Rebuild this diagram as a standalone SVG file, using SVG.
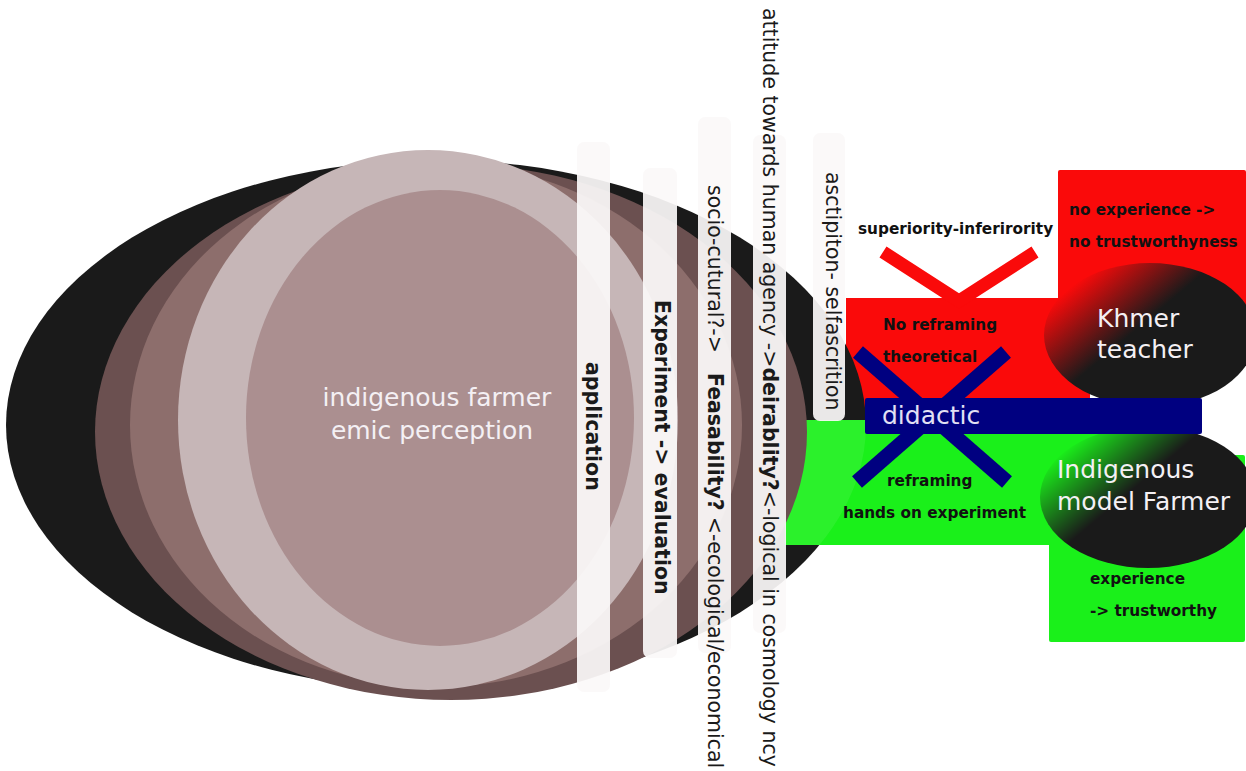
<svg xmlns="http://www.w3.org/2000/svg" width="1246" height="771" viewBox="0 0 1246 771">
  <defs>
    <style>
      .strip { fill: #fbf9f9; fill-opacity: 0.93; }
      .vt { font-family: "DejaVu Sans", "Liberation Sans", sans-serif; font-size: 20.5px; fill: #1a1a1a; }
      .vb { font-weight: bold; }
      .lbl { font-family: "DejaVu Sans", "Liberation Sans", sans-serif; font-size: 15.3px; font-weight: bold; fill: #111; }
      .big { font-family: "DejaVu Sans", "Liberation Sans", sans-serif; font-size: 25px; fill: #f4f0f4; }
    </style>
    <linearGradient id="gRed" gradientUnits="userSpaceOnUse" x1="1070" y1="288" x2="1118" y2="345">
      <stop offset="0" stop-color="#fa0a0a"/>
      <stop offset="1" stop-color="#1a1a1a"/>
    </linearGradient>
    <linearGradient id="gGreen" gradientUnits="userSpaceOnUse" x1="1064" y1="450" x2="1112" y2="507">
      <stop offset="0" stop-color="#1af01a"/>
      <stop offset="1" stop-color="#1a1a1a"/>
    </linearGradient>
    <clipPath id="greenClip">
      <rect x="785" y="420" width="315" height="125"/>
    </clipPath>
  </defs>

  <!-- red background areas -->
  <g id="red-area">
    <rect x="846" y="298" width="244" height="123" fill="#fa0a0a"/>
    <rect x="1058" y="170" width="188" height="160" rx="2" fill="#fa0a0a"/>
  </g>

  <!-- perception ellipse stack: outer dark ring -->
  <g id="indigenous-farmer">
    <ellipse cx="436" cy="425" rx="430" ry="265" fill="#1a1a1a"/>
  </g>

  <g id="green-area">
    <rect x="785" y="420" width="315" height="125" fill="#1af01a"/>
    <rect x="1049" y="455" width="196" height="187" rx="2" fill="#1af01a"/>
    <ellipse cx="436" cy="425" rx="430" ry="265" fill="#ffffff" fill-opacity="0.08" clip-path="url(#greenClip)"/>
  </g>

  <g id="indigenous-farmer-rings">
    <ellipse cx="451" cy="432" rx="356" ry="268" fill="#6b5050"/>
    <ellipse cx="436" cy="425" rx="306" ry="262" fill="#8d6e6c"/>
    <ellipse cx="428" cy="420" rx="250" ry="270" fill="#c6b6b7"/>
    <ellipse cx="440" cy="418" rx="194" ry="228" fill="#ab8f90"/>
    <text class="big" x="437" y="406" text-anchor="middle">indigenous farmer</text>
    <text class="big" x="432" y="439" text-anchor="middle">emic perception</text>
  </g>

  <!-- vertical strips -->
  <g id="strip-application">
    <rect class="strip" x="577" y="142" width="33" height="550" rx="7"/>
    <text class="vt vb" transform="translate(586,362) rotate(90)">application</text>
  </g>
  <g id="strip-experiment">
    <rect class="strip" x="643" y="168" width="34" height="490" rx="7"/>
    <text class="vt vb" transform="translate(655,300) rotate(90)">Experiment -&gt; evaluation</text>
  </g>
  <g id="strip-feasability">
    <rect class="strip" x="698" y="117" width="33" height="536" rx="7"/>
    <text class="vt" transform="translate(708,185) rotate(90)">socio-cutural?-&gt;<tspan class="vb" dx="20">Feasability?</tspan><tspan dx="6">&lt;-ecological/economical</tspan></text>
  </g>
  <g id="strip-desirability">
    <rect class="strip" x="753" y="135" width="33" height="498" rx="7"/>
    <text class="vt" transform="translate(763,8) rotate(90)">attitude towards human agency -&gt;<tspan class="vb">deirablity?</tspan>&lt;-logical in cosmology ncy</text>
  </g>
  <g id="strip-ascription">
    <rect class="strip" x="813" y="133" width="32" height="288" rx="7"/>
    <text class="vt" transform="translate(826,172) rotate(90)">asctipiton- selfascrition</text>
  </g>

  <!-- actor nodes -->
  <g id="khmer-teacher">
    <ellipse cx="1150" cy="335" rx="106" ry="72" fill="url(#gRed)"/>
    <text class="big" x="1097" y="327">Khmer</text>
    <text class="big" x="1097" y="358">teacher</text>
  </g>
  <g id="model-farmer">
    <ellipse cx="1148" cy="497" rx="108" ry="71" fill="url(#gGreen)"/>
    <text class="big" x="1057" y="478">Indigenous</text>
    <text class="big" x="1057" y="510">model Farmer</text>
  </g>

  <!-- connectors -->
  <g id="connectors">
    <polyline points="883,252 959,301 1035,252" fill="none" stroke="#fa0a0a" stroke-width="13" stroke-linejoin="miter"/>
    <rect x="865" y="398" width="337" height="36" rx="2" fill="#000080"/>
    <line x1="858" y1="352" x2="1007" y2="482" stroke="#000080" stroke-width="15"/>
    <line x1="1006" y1="352" x2="857" y2="482" stroke="#000080" stroke-width="15"/>
  </g>

  <g id="didactic">
    <text x="882" y="424" font-family="DejaVu Sans, Liberation Sans, sans-serif" font-size="25" fill="#e2e0f4">didactic</text>
  </g>

  <!-- labels -->
  <g id="labels">
    <text class="lbl" x="858" y="234">superiority-inferirority</text>
    <text class="lbl" x="1069" y="215">no experience -&gt;</text>
    <text class="lbl" x="1069" y="247">no trustworthyness</text>
    <text class="lbl" x="883" y="330">No reframing</text>
    <text class="lbl" x="883" y="362">theoretical</text>
    <text class="lbl" x="887" y="486">reframing</text>
    <text class="lbl" x="843" y="518">hands on experiment</text>
    <text class="lbl" x="1090" y="584">experience</text>
    <text class="lbl" x="1090" y="616">-&gt; trustworthy</text>
  </g>
</svg>
